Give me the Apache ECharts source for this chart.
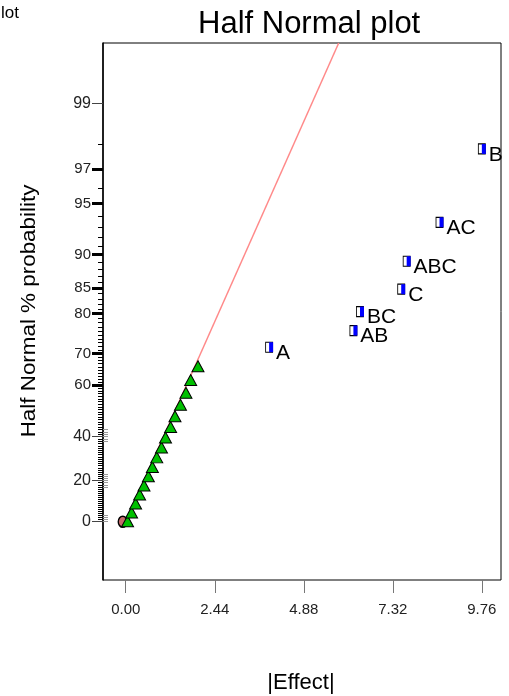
<!DOCTYPE html>
<html>
<head>
<meta charset="utf-8">
<title>Half Normal plot</title>
<script src="https://cdn.jsdelivr.net/npm/echarts@6/dist/echarts.min.js"></script>
<style>
  html, body { margin: 0; padding: 0; background: #fff; }
  #chart { width: 509px; height: 696px; }
</style>
</head>
<body>
<div id="chart"></div>
<script>
// Significant model terms: |effect| and half-normal % probability
const termNames   = ['A', 'AB', 'BC', 'C', 'ABC', 'AC', 'B'];
const termEffects = [3.93, 6.24, 6.42, 7.55, 7.70, 8.60, 9.76];
const termPct     = [71.74, 76.09, 80.43, 84.78, 89.13, 93.48, 97.83];

// Remaining (error) effects
const errorEffects = [0.05, 0.16, 0.27, 0.38, 0.50, 0.62, 0.73, 0.85, 0.98, 1.09, 1.23, 1.35, 1.50, 1.65, 1.78, 1.98];
const errorPct     = [2.17, 6.52, 10.87, 15.22, 19.57, 23.91, 28.26, 32.61, 36.96, 41.30, 45.65, 50.00, 54.35, 58.70, 63.04, 67.39];

// Origin marker
const originEffect = 0;
const originPct = 0;

// Fitted line through the error effects: |effect| per unit half-normal score
const fitSlope = 1.98;

// Axis ticks
const xTicks = [0, 2.44, 4.88, 7.32, 9.76];
const yLabelPct = [0, 20, 40, 60, 70, 80, 85, 90, 95, 97, 99];
const yLargeLabelPct = [0, 20, 40, 99];
const yThickTickPct = [60, 70, 80, 85, 90, 95, 97];
const yGreyTickPct = [0, 1, 2, 3, 17, 18, 19, 20, 21, 22, 23, 38, 39, 40, 41, 42, 43];

const xMin = -0.623, xMax = 10.285;
const yMin = -0.359, yMax = 2.948;

// Inverse standard normal CDF (Acklam's rational approximation)
function normInv(p) {
  const a = [-3.969683028665376e+01, 2.209460984245205e+02, -2.759285104469687e+02, 1.383577518672690e+02, -3.066479806614716e+01, 2.506628277459239e+00];
  const b = [-5.447609879822406e+01, 1.615858368580409e+02, -1.556989798598866e+02, 6.680131188771972e+01, -1.328068155288572e+01];
  const c = [-7.784894002430293e-03, -3.223964580411365e-01, -2.400758277161838e+00, -2.549732539343734e+00, 4.374664141464968e+00, 2.938163982698783e+00];
  const d = [7.784695709041462e-03, 3.224671290700398e-01, 2.445134137142996e+00, 3.754408661907416e+00];
  const pl = 0.02425, ph = 1 - pl;
  let q, r;
  if (p < pl) {
    q = Math.sqrt(-2 * Math.log(p));
    return (((((c[0]*q+c[1])*q+c[2])*q+c[3])*q+c[4])*q+c[5]) / ((((d[0]*q+d[1])*q+d[2])*q+d[3])*q+1);
  }
  if (p <= ph) {
    q = p - 0.5; r = q * q;
    return (((((a[0]*r+a[1])*r+a[2])*r+a[3])*r+a[4])*r+a[5])*q / (((((b[0]*r+b[1])*r+b[2])*r+b[3])*r+b[4])*r+1);
  }
  q = Math.sqrt(-2 * Math.log(1 - p));
  return -(((((c[0]*q+c[1])*q+c[2])*q+c[3])*q+c[4])*q+c[5]) / ((((d[0]*q+d[1])*q+d[2])*q+d[3])*q+1);
}
// Half-normal score for a % probability
function hn(pct) { return pct <= 0 ? 0 : normInv(0.5 + pct / 200); }

const minorTickPct = [];
for (let i = 1; i <= 98; i++) {
  if (yLabelPct.indexOf(i) < 0) minorTickPct.push(i);
}

const labelScores = yLabelPct.map(hn);
const FONT = "'Liberation Sans', Arial, sans-serif";

function yLabelFormatter(v) {
  let best = 0, bestD = Infinity;
  labelScores.forEach((s, i) => { const dd = Math.abs(s - v); if (dd < bestD) { bestD = dd; best = i; } });
  const pct = yLabelPct[best];
  return yLargeLabelPct.indexOf(pct) >= 0 ? '{big|' + pct + '}' : '{small|' + pct + '}';
}

function yAxisBase(extra) {
  return Object.assign({
    type: 'value', min: yMin, max: yMax, position: 'left', offset: 0,
    splitLine: { show: false },
    axisLine: { show: false, onZero: false },
    axisLabel: { show: false },
    axisTick: { show: false }
  }, extra);
}

const chart = echarts.init(document.getElementById('chart'), null, { renderer: 'canvas' });

const option = {
  animation: false,
  backgroundColor: '#ffffff',
  title: {
    text: 'Half Normal plot',
    left: 193, top: 4,
    textStyle: { fontFamily: FONT, fontSize: 31, fontWeight: 'normal', color: '#000' }
  },
  grid: {
    left: 103, right: 8, top: 43, bottom: 116,
    show: true, borderColor: '#000', borderWidth: 1
  },
  xAxis: {
    type: 'value', min: xMin, max: xMax, position: 'bottom',
    splitLine: { show: false },
    axisLine: { show: false, onZero: false },
    axisTick: { show: true, length: 13, customValues: xTicks, lineStyle: { color: '#777', width: 1 } },
    axisLabel: {
      customValues: xTicks, margin: 22,
      formatter: v => v.toFixed(2),
      fontFamily: FONT, fontSize: 15, color: '#222'
    }
  },
  yAxis: [
    yAxisBase({
      axisLine: { show: true, onZero: false, lineStyle: { color: '#000', width: 1.5 } },
      axisTick: { show: true, length: 11, customValues: yLargeLabelPct.map(hn), lineStyle: { color: '#444', width: 1 } },
      axisLabel: {
        show: true, customValues: labelScores, margin: 12,
        formatter: yLabelFormatter,
        rich: {
          big: { fontFamily: FONT, fontSize: 16, color: '#222' },
          small: { fontFamily: "'Liberation Sans Narrow', 'Liberation Sans', Arial, sans-serif", fontSize: 15, color: '#222' }
        }
      }
    }),
    yAxisBase({
      axisTick: { show: true, length: 11, customValues: yThickTickPct.map(hn), lineStyle: { color: '#000', width: 3 } }
    }),
    yAxisBase({
      axisTick: { show: true, length: 5, customValues: minorTickPct.map(hn), lineStyle: { color: '#000', width: 1 } }
    }),
    yAxisBase({
      axisTick: { show: true, inside: true, length: 5, customValues: yGreyTickPct.map(hn), lineStyle: { color: '#999', width: 1 } }
    })
  ],
  series: [
    {
      type: 'scatter', yAxisIndex: 0,
      data: [[originEffect, hn(originPct)]],
      symbol: 'circle', symbolSize: [9, 11], symbolOffset: [-3, 0],
      itemStyle: { color: '#c46a6a', borderColor: '#000', borderWidth: 1.5, opacity: 1 },
      z: 2
    },
    {
      type: 'line', yAxisIndex: 0,
      data: [[0, 0], [fitSlope * yMax, yMax]],
      showSymbol: false, symbol: 'none',
      lineStyle: { color: '#ff8a8a', width: 1.5 },
      clip: true, z: 3
    },
    {
      type: 'scatter', yAxisIndex: 0,
      data: errorEffects.map((e, i) => [e, hn(errorPct[i])]),
      symbol: 'triangle', symbolSize: [12, 11], symbolOffset: [0, 4],
      itemStyle: { color: '#00c000', borderColor: '#000', borderWidth: 1, opacity: 1 },
      z: 4
    },
    {
      type: 'scatter', yAxisIndex: 0,
      data: termEffects.map((e, i) => ({ name: termNames[i], value: [e, hn(termPct[i])] })),
      symbol: 'rect', symbolSize: [7, 10],
      itemStyle: { color: '#fff', borderColor: '#000', borderWidth: 1, opacity: 1 },
      label: {
        show: true, position: 'right', distance: 3, offset: [0, 6],
        formatter: p => p.name,
        fontFamily: FONT, fontSize: 21, color: '#000'
      },
      z: 5
    },
    {
      type: 'scatter', yAxisIndex: 0,
      data: termEffects.map((e, i) => [e, hn(termPct[i])]),
      symbol: 'rect', symbolSize: [4, 10], symbolOffset: [2, 0],
      itemStyle: { color: '#0000ff', opacity: 1 },
      z: 6
    }
  ],
  graphic: [
    {
      type: 'text', x: 29, y: 311, rotation: Math.PI / 2, scaleX: 1.12,
      style: {
        text: 'Half Normal % probability', fontFamily: FONT, fontSize: 20, fill: '#000',
        align: 'center', verticalAlign: 'middle', textAlign: 'center', textVerticalAlign: 'middle'
      }
    },
    {
      type: 'text', x: 301, y: 683,
      style: {
        text: '|Effect|', fontFamily: FONT, fontSize: 22, fill: '#000',
        align: 'center', verticalAlign: 'middle', textAlign: 'center', textVerticalAlign: 'middle'
      }
    },
    {
      type: 'text', x: 1, y: 13,
      style: {
        text: 'lot', fontFamily: FONT, fontSize: 17, fill: '#000',
        align: 'left', verticalAlign: 'middle', textAlign: 'left', textVerticalAlign: 'middle'
      }
    }
  ]
};

chart.setOption(option);
</script>
</body>
</html>
